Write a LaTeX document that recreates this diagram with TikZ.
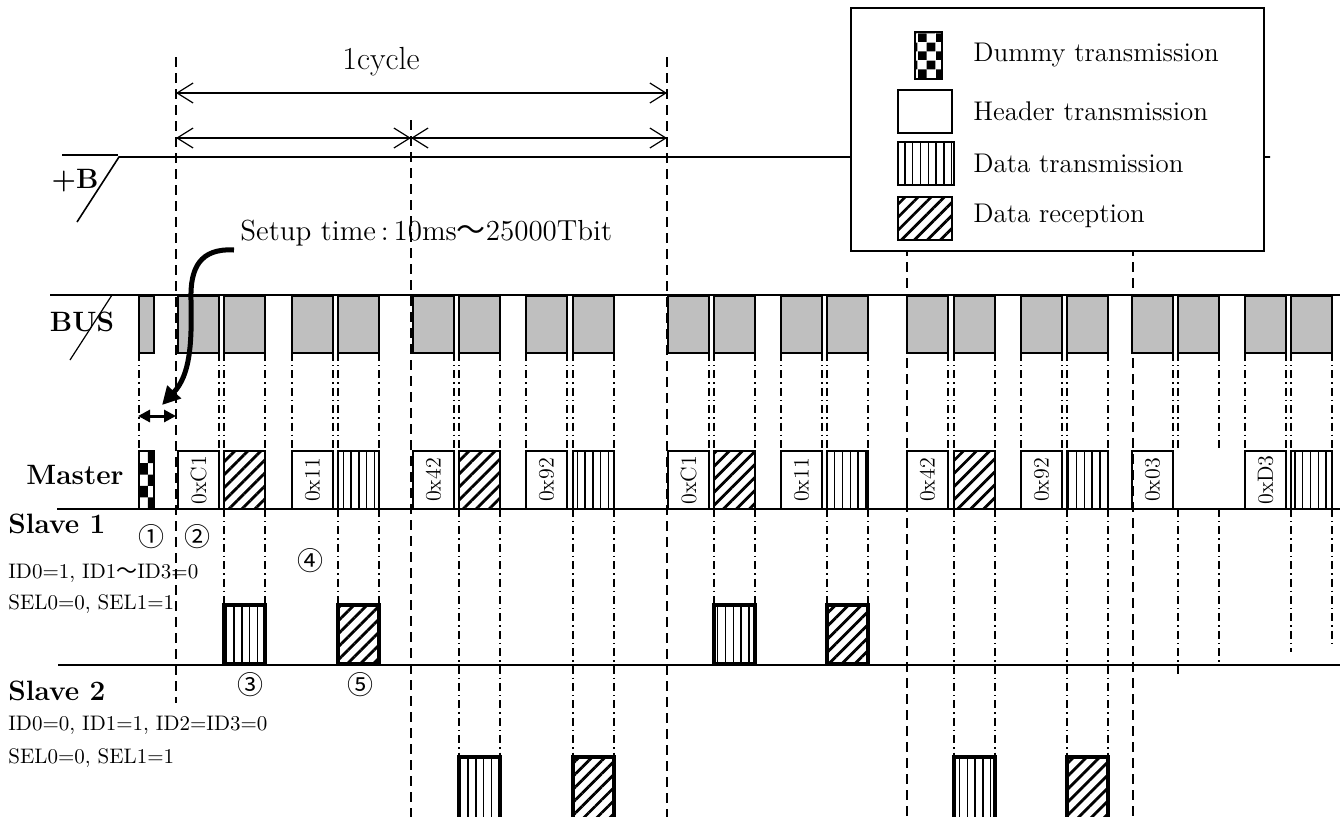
\documentclass[tikz,border=0pt]{standalone}
\usepackage{fontspec}
\newfontfamily\cjk{Noto Sans CJK JP}
\usetikzlibrary{arrows.meta,patterns,patterns.meta}

\tikzdeclarepattern{
  name=bigcheck,
  type=uncolored,
  bounding box={(0,0) and (9pt,9pt)},
  tile size={(9pt,9pt)},
  code={\fill (0,0) rectangle (4.5pt,4.5pt); \fill (4.5pt,4.5pt) rectangle (9pt,9pt);}
}

\tikzset{
  slot/.style={draw,line width=0.75pt,inner sep=0pt,outer sep=0pt,anchor=north west,
    minimum width=20.5pt,minimum height=29pt},
  bus/.style={slot,fill=black!25,minimum height=28.5pt},
  mhdr/.style={slot},
  mtx/.style={slot,pattern={Lines[angle=90,distance=3.9pt,line width=0.7pt]}},
  mrx/.style={slot,pattern={Lines[angle=45,distance=4.6pt,line width=1.4pt]}},
  mnone/.style={slot,draw=none},
  mdmy/.style={slot,minimum width=7.5pt,pattern=checkerboard},
  stx/.style={mtx,line width=2pt,minimum height=29.5pt},
  srx/.style={mrx,line width=2pt,minimum height=29.5pt},
  cyc/.style={line width=0.7pt,dash pattern=on 5pt off 3pt},
  drop/.style={line width=0.6pt,dash pattern=on 4pt off 2pt on 0.7pt off 2pt},
  span/.style={line width=0.6pt,{Straight Barb[length=8pt,width=10pt]}-{Straight Barb[length=8pt,width=10pt]}},
  row/.style={font=\bfseries\fontsize{14}{16}\selectfont},
  note/.style={font=\fontsize{10.5}{12}\selectfont,anchor=west,inner sep=0pt},
  hexlbl/.style={font=\fontsize{11}{12}\selectfont,rotate=90,inner sep=0pt},
  circ/.style={font=\cjk\fontsize{13}{14}\selectfont,inner sep=0pt},
  legtxt/.style={font=\fontsize{13.5}{15}\selectfont,anchor=west,inner sep=0pt}
}

\begin{document}
\begin{tikzpicture}[x=0.5pt,y=0.5pt,yscale=-1,xscale=1]
\useasboundingbox (0,0) rectangle (1340,816);

% cycle boundaries
\coordinate (c1t) at (176,57);   \coordinate (c1b) at (176,703);
\coordinate (c2t) at (411,120);  \coordinate (c2b) at (411,820);
\coordinate (c3t) at (667,57);   \coordinate (c3b) at (667,820);
\coordinate (c4t) at (907,150);  \coordinate (c4b) at (907,820);
\coordinate (c5t) at (1133,150); \coordinate (c5b) at (1133,820);
\foreach \c in {1,...,5}
  \draw[cyc] (c\c t) -- (c\c b);

% +B supply
\draw[line width=0.6pt] (62,155) -- (118,155);
\draw[line width=0.8pt] (77,222) -- (119,157) -- (1270,157);
\node[row] (pb) at (75,181) {+B};

% 1 cycle span
\coordinate (a0) at (176,93);  \coordinate (a2) at (667,93);
\coordinate (h0) at (176,138); \coordinate (h1) at (411,138); \coordinate (h2) at (667,138);
\draw[span] (a0) -- (a2);
\draw[span] (h0) -- (h1);
\draw[span] (h1) -- (h2);
\node[font=\fontsize{16}{18}\selectfont] (cyc) at (381,62) {1cycle};

% setup time
\node[font=\fontsize{14.5}{16}\selectfont,anchor=west,inner sep=0pt] (setup) at (240,233)
  {Setup time\,:\,10ms{\cjk ～}25000Tbit};

% rows
\draw[line width=0.8pt] (50,295) -- (1340,295);
\draw[line width=0.6pt] (112,295) -- (70,360);
\node[row] (busl) at (82,322) {BUS};
\draw[line width=0.8pt] (57,509) -- (1340,509);
\node[row] (mstl) at (75,475) {Master};
\draw[line width=0.8pt] (58,665) -- (1340,665);
\node[row,anchor=west,inner sep=0pt] (s1l) at (8,524) {Slave 1};
\node[note] at (8,573) {ID0=1, ID1{\cjk ～}ID3=0};
\node[note] at (8,604) {SEL0=0, SEL1=1};
\node[row,anchor=west,inner sep=0pt] (s2l) at (8,691) {Slave 2};
\node[note] at (8,725) {ID0=0, ID1=1, ID2=ID3=0};
\node[note] at (8,758) {SEL0=0, SEL1=1};

% dummy frame
\node[bus,minimum width=7.5pt] (bdm) at (139,296) {};
\node[mdmy] (mdm) at (139,451) {};
\draw[drop] (bdm.south west) -- (mdm.north west);

% frames: header x / data x / header id / master data
\foreach \n/\hx/\dx/\lab/\dt in {1/178/224/0xC1/mrx, 2/292/338/0x11/mtx, 3/413/459/0x42/mrx,
    4/526/573/0x92/mtx, 5/668/714/0xC1/mrx, 6/781/827/0x11/mtx, 7/907/954/0x42/mrx,
    8/1021/1067/0x92/mtx, 9/1132/1178/0x03/mnone, 10/1245/1291/0xD3/mtx}{
  \node[bus] (bh\n) at (\hx,296) {};
  \node[bus] (bd\n) at (\dx,296) {};
  \node[mhdr] (mh\n) at (\hx,451) {};
  \node[\dt] (md\n) at (\dx,451) {};
  \node[hexlbl] at (mh\n.center) {\lab};
  \draw[drop] (bh\n.south east) -- (mh\n.north east);
  \draw[drop] (bd\n.south west) -- (md\n.north west);
  \draw[drop] (bd\n.south east) -- (md\n.north east);
}
\foreach \n in {2,4,6,8,10}
  \draw[drop] (bh\n.south west) -- (mh\n.north west);

% setup arrow
\coordinate (sa) at (234,250);
\coordinate (tip) at (162,405);
\draw[line width=2.5pt,-{Triangle[length=9pt,width=9pt]}] (sa) .. controls (200,248) and (190,268) .. (191,300)
  .. controls (192,345) and (190,375) .. (tip);
\coordinate (g0) at (138,416); \coordinate (g1) at (176,416);
\draw[line width=1.5pt,{Triangle[length=6pt,width=6pt]}-{Triangle[length=6pt,width=6pt]}] (g0) -- (g1);

% slave frames
\node[stx] (sa1) at (224,605) {};
\node[srx] (sb1) at (338,605) {};
\node[stx] (sa2) at (714,605) {};
\node[srx] (sb2) at (827,605) {};
\node[stx,minimum height=35pt] (ta1) at (459,757) {};
\node[srx,minimum height=35pt] (tb1) at (573,757) {};
\node[stx,minimum height=35pt] (ta2) at (954,757) {};
\node[srx,minimum height=35pt] (tb2) at (1067,757) {};
\foreach \n/\s in {1/sa1, 2/sb1, 5/sa2, 6/sb2, 3/ta1, 4/tb1, 7/ta2, 8/tb2}{
  \draw[drop] (md\n.south west) -- (\s.north west);
  \draw[drop] (md\n.south east) -- (\s.north east);
}
\coordinate (e1) at (1178,677); \coordinate (e2) at (1219,662);
\coordinate (e3) at (1291,652); \coordinate (e4) at (1332,648);
\draw[drop] (md9.south west) -- (e1);
\draw[drop] (md9.south east) -- (e2);
\draw[drop] (md10.south west) -- (e3);
\draw[drop] (md10.south east) -- (e4);

% step numbers
\node[circ] at (151,537) {①};
\node[circ] at (197,537) {②};
\node[circ] at (250,685) {③};
\node[circ] at (310,561) {④};
\node[circ] at (360,685) {⑤};

% legend
\draw[line width=0.8pt,fill=white] (851,8) rectangle (1264,251);
\node[slot,minimum width=13.5pt,minimum height=23.5pt,pattern=bigcheck] (kd) at (915,32) {};
\node[mhdr,minimum width=27pt,minimum height=21.5pt] (kh) at (898,90) {};
\node[mtx,minimum width=28pt,minimum height=21.5pt] (kt) at (898,142) {};
\node[mrx,minimum width=27pt,minimum height=21.5pt] (kr) at (898,197) {};
\node[legtxt] at (973,55) {Dummy transmission};
\node[legtxt] at (973,111) {Header transmission};
\node[legtxt] at (973,163) {Data transmission};
\node[legtxt] at (973,216) {Data reception};

\end{tikzpicture}
\end{document}
